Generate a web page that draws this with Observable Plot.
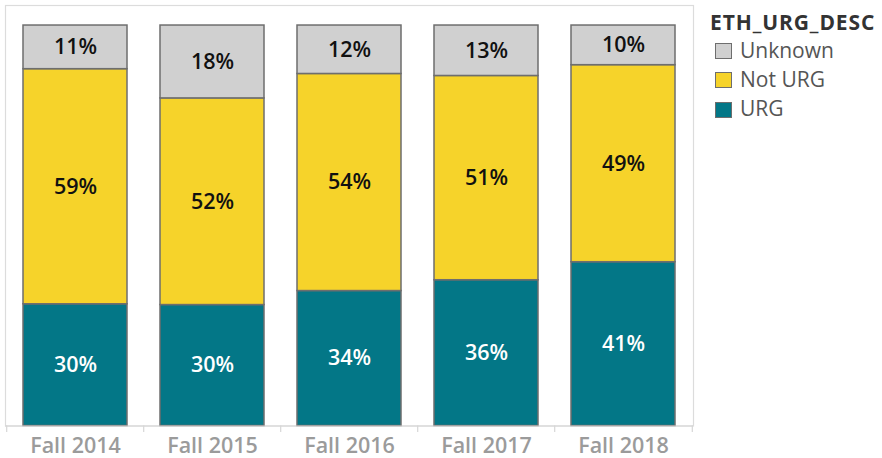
<!DOCTYPE html>
<html>
<head>
<meta charset="utf-8">
<script src="https://cdn.jsdelivr.net/npm/d3@7"></script>
<script src="https://cdn.jsdelivr.net/npm/@observablehq/plot@0.6"></script>
<style>
  html, body { margin: 0; padding: 0; background: #fff; }
  #wrap { position: relative; width: 882px; height: 458px; font-family: "Open Sans", sans-serif; }
  #legend .title { position: absolute; left: 710px; top: 7.5px; font-weight: 700; font-size: 21px; line-height: 1.362; color: #333; letter-spacing: 0.9px; white-space: nowrap; }
  #legend .label { position: absolute; left: 740px; font-size: 21px; line-height: 1.362; color: #555; white-space: nowrap; }
  #legend .sw { position: absolute; left: 715px; width: 17px; height: 16px; border: 1.5px solid #6e6e6e; box-sizing: border-box; }
</style>
</head>
<body>
<div id="wrap"><div id="chart"></div><div id="legend"></div></div>
<script>
const terms = ["Fall 2014", "Fall 2015", "Fall 2016", "Fall 2017", "Fall 2018"];
const groups = ["URG", "Not URG", "Unknown"];
const colors = ["#037787", "#f6d32a", "#d0d0d0"];
const urg = [30.4, 30.2, 33.7, 36.4, 40.9];
const notUrg = [58.7, 51.6, 54.2, 51.0, 49.2];
const unknown = [10.9, 18.2, 12.1, 12.6, 9.9];
const legendOrder = ["Unknown", "Not URG", "URG"];

const series = {"URG": urg, "Not URG": notUrg, "Unknown": unknown};
const data = [];
for (const g of groups) terms.forEach((t, i) => data.push({term: t, group: g, value: series[g][i]}));

const W = 700, H = 458;
const half = (W - 5 - 7) / terms.length / 2;

const chart = Plot.plot({
  width: W, height: H,
  marginLeft: 5, marginRight: 7, marginTop: 5, marginBottom: 32.5,
  style: {fontFamily: "'Open Sans', sans-serif", background: "#fff"},
  x: {domain: terms, paddingInner: 0.244, paddingOuter: 0.122, label: null},
  y: {domain: [0, 105], axis: null},
  color: {domain: groups, range: colors},
  marks: [
    Plot.frame({stroke: "#dcdcdc", strokeWidth: 1.2}),
    Plot.barY(data, Plot.stackY({x: "term", y: "value", fill: "group", stroke: "#6e6e6e", strokeWidth: 1.5})),
    Plot.text(data, Plot.stackY({x: "term", y: "value", text: d => Math.round(d.value) + "%",
      fill: d => d.group === "URG" ? "#ffffff" : "#111111",
      fontSize: 21.5, fontWeight: 600})),
    Plot.ruleX(terms, {x: d => d, dx: -half, y1: 0, y2: -1.6, stroke: "#d6d6d6", strokeWidth: 1.2}),
    Plot.ruleX([terms[terms.length - 1]], {x: d => d, dx: half, y1: 0, y2: -1.6, stroke: "#d6d6d6", strokeWidth: 1.2}),
    Plot.ruleY([0], {stroke: "#d6d6d6", strokeWidth: 1.2}),
    Plot.axisX({tickSize: 0, tickPadding: 12, fontSize: 21.5, fontWeight: 600, fill: "#9b9b9b", label: null})
  ]
});
document.getElementById("chart").appendChild(chart);

const leg = document.getElementById("legend");
const title = document.createElement("div");
title.className = "title";
title.textContent = "ETH_URG_DESC";
leg.appendChild(title);
const labelTops = [35.6, 64.9, 94.3];
const swTops = [42.7, 72.1, 101.5];
legendOrder.forEach((g, i) => {
  const sw = document.createElement("div");
  sw.className = "sw";
  sw.style.top = swTops[i] + "px";
  sw.style.background = colors[groups.indexOf(g)];
  leg.appendChild(sw);
  const tx = document.createElement("div");
  tx.className = "label";
  tx.style.top = labelTops[i] + "px";
  tx.textContent = g;
  leg.appendChild(tx);
});
</script>
</body>
</html>
